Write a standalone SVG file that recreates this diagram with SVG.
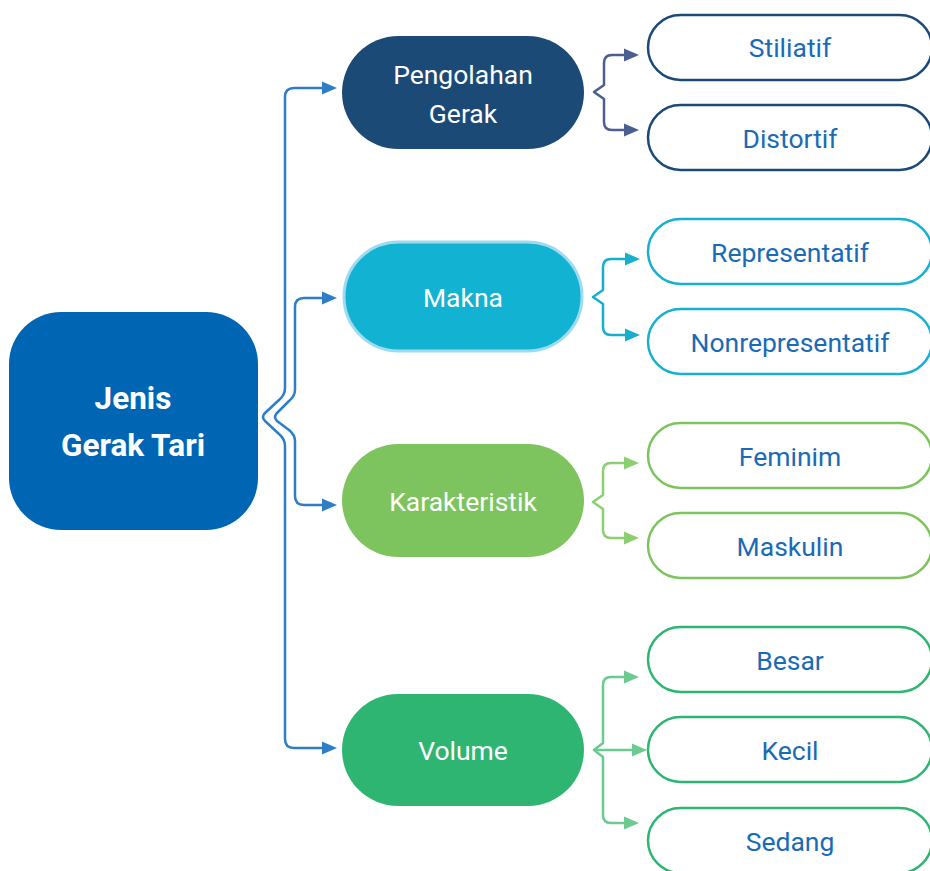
<svg xmlns="http://www.w3.org/2000/svg" width="930" height="871" viewBox="0 0 930 871">
<style>
.main{font-family:Roboto,"Liberation Sans",sans-serif;font-size:26.5px;fill:#ffffff;text-anchor:middle;dominant-baseline:central}
.root{font-family:Roboto,"Liberation Sans",sans-serif;font-size:31.5px;font-weight:bold;fill:#ffffff;text-anchor:middle;dominant-baseline:central}
.leaf{font-family:Roboto,"Liberation Sans",sans-serif;font-size:26.5px;fill:#1a6bb5;text-anchor:middle;dominant-baseline:central}
.lb{fill:#ffffff;stroke-width:2.5}
.conn{fill:none;stroke-width:2.5;stroke-linejoin:round}
</style>
<defs>
<marker id="aL" markerUnits="userSpaceOnUse" markerWidth="15" markerHeight="14" refX="0" refY="7" orient="auto-start-reverse"><path d="M0,0.5 L15,7 L0,13.5 z" fill="#2f7dc7"/></marker>
<marker id="aP" markerUnits="userSpaceOnUse" markerWidth="15" markerHeight="14" refX="0" refY="7" orient="auto-start-reverse"><path d="M0,0.5 L15,7 L0,13.5 z" fill="#4b5f8e"/></marker>
<marker id="aM" markerUnits="userSpaceOnUse" markerWidth="15" markerHeight="14" refX="0" refY="7" orient="auto-start-reverse"><path d="M0,0.5 L15,7 L0,13.5 z" fill="#17afd0"/></marker>
<marker id="aK" markerUnits="userSpaceOnUse" markerWidth="15" markerHeight="14" refX="0" refY="7" orient="auto-start-reverse"><path d="M0,0.5 L15,7 L0,13.5 z" fill="#8ccf73"/></marker>
<marker id="aV" markerUnits="userSpaceOnUse" markerWidth="15" markerHeight="14" refX="0" refY="7" orient="auto-start-reverse"><path d="M0,0.5 L15,7 L0,13.5 z" fill="#6cc98f"/></marker>
</defs>

<g id="connectors">
<path class="conn" stroke="#2f7dc7" marker-start="url(#aL)" marker-end="url(#aL)" d="M322 88 H294 Q285 88 285 97 V388 Q285 395 279 400 L265 413 Q261 417 265 421 L279 434 Q285 439 285 446 V739 Q285 748 294 748 H322"/>
<path class="conn" stroke="#2f7dc7" marker-start="url(#aL)" marker-end="url(#aL)" d="M322 298 H304 Q295 298 295 307 V390 Q295 396 289 401 L277 413 Q273 417 277 421 L289 430 Q295 435 295 441 V496 Q295 505 304 505 H322"/>
<path class="conn" stroke="#4b5f8e" marker-start="url(#aP)" marker-end="url(#aP)" d="M624 55 H612 Q604 55 604 63 V85 L594 92 L604 99 V122 Q604 130 612 130 H624"/>
<path class="conn" stroke="#17afd0" marker-start="url(#aM)" marker-end="url(#aM)" d="M625 259 H611 Q603 259 603 267 V290 L593 297 L603 304 V327 Q603 335 611 335 H625"/>
<path class="conn" stroke="#8ccf73" marker-start="url(#aK)" marker-end="url(#aK)" d="M624 463 H611 Q603 463 603 471 V495 L593 502 L603 509 V530 Q603 538 611 538 H624"/>
<path class="conn" stroke="#6cc98f" marker-start="url(#aV)" marker-end="url(#aV)" d="M624 677 H611 Q603 677 603 685 V743 L594 750 L603 757 V815 Q603 823 611 823 H624"/>
<path class="conn" stroke="#6cc98f" marker-end="url(#aV)" d="M594 750 H632"/>
</g>

<g id="root">
<rect x="9" y="312" width="249" height="218" rx="52" fill="#0066b3"/>
<text class="root" x="133" y="398">Jenis</text>
<text class="root" x="133" y="445">Gerak Tari</text>
</g>

<g id="pengolahan">
<rect x="342" y="36" width="242" height="113" rx="56.5" fill="#1c4a77"/>
<text class="main" x="463" y="74">Pengolahan</text>
<text class="main" x="463" y="113">Gerak</text>
</g>
<g id="makna">
<rect x="344" y="242" width="238" height="109" rx="54.5" fill="#12b2d2" stroke="#9edbf0" stroke-width="3"/>
<text class="main" x="463" y="297">Makna</text>
</g>
<g id="karakteristik">
<rect x="342" y="444" width="242" height="113" rx="56.5" fill="#7dc45e"/>
<text class="main" x="463" y="501">Karakteristik</text>
</g>
<g id="volume">
<rect x="342" y="694" width="242" height="112" rx="56" fill="#2fb572"/>
<text class="main" x="463" y="750">Volume</text>
</g>

<g id="stiliatif"><rect class="lb" x="648" y="15" width="284" height="65" rx="32.5" stroke="#1c4a77"/><text class="leaf" x="790" y="47">Stiliatif</text></g>
<g id="distortif"><rect class="lb" x="648" y="105" width="284" height="65" rx="32.5" stroke="#1c4a77"/><text class="leaf" x="790" y="138">Distortif</text></g>
<g id="representatif"><rect class="lb" x="648" y="219" width="284" height="65" rx="32.5" stroke="#17b0d2"/><text class="leaf" x="790" y="252">Representatif</text></g>
<g id="nonrepresentatif"><rect class="lb" x="648" y="309" width="284" height="65" rx="32.5" stroke="#17b0d2"/><text class="leaf" x="790" y="342">Nonrepresentatif</text></g>
<g id="feminim"><rect class="lb" x="648" y="423" width="284" height="65" rx="32.5" stroke="#7dc45e"/><text class="leaf" x="790" y="456">Feminim</text></g>
<g id="maskulin"><rect class="lb" x="648" y="513" width="284" height="65" rx="32.5" stroke="#7dc45e"/><text class="leaf" x="790" y="546">Maskulin</text></g>
<g id="besar"><rect class="lb" x="648" y="627" width="284" height="65" rx="32.5" stroke="#2fb572"/><text class="leaf" x="790" y="660">Besar</text></g>
<g id="kecil"><rect class="lb" x="648" y="717" width="284" height="65" rx="32.5" stroke="#2fb572"/><text class="leaf" x="790" y="750">Kecil</text></g>
<g id="sedang"><rect class="lb" x="648" y="808" width="284" height="65" rx="32.5" stroke="#2fb572"/><text class="leaf" x="790" y="841">Sedang</text></g>
</svg>
